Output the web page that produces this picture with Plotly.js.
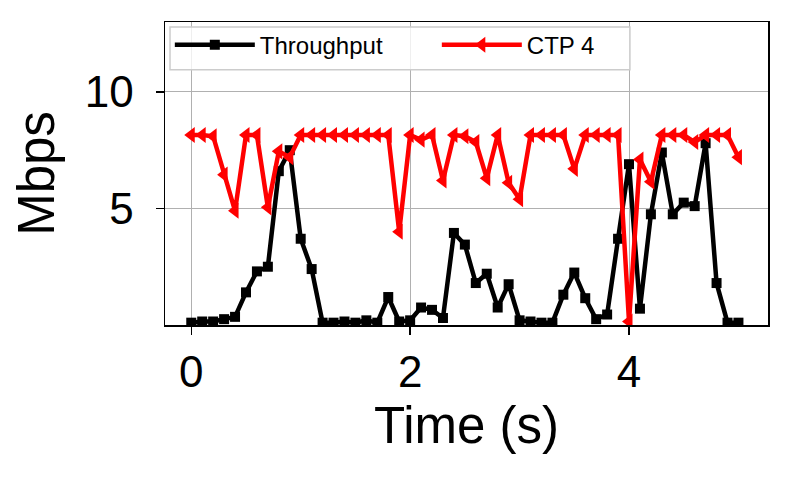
<!DOCTYPE html>
<html>
<head>
<meta charset="utf-8">
<script src="https://cdn.plot.ly/plotly-3.0.1.min.js"></script>
<style>html,body{margin:0;padding:0;background:#fff;}#chart{width:792px;height:480px;}</style>
</head>
<body>
<div id="chart"></div>
<script>
const timeS = [0.0,0.1,0.2,0.3,0.4,0.5,0.6,0.7,0.8,0.9,
  1.0,1.1,1.2,1.3,1.4,1.5,1.6,1.7,1.8,1.9,
  2.0,2.1,2.2,2.3,2.4,2.5,2.6,2.7,2.8,2.9,
  3.0,3.1,3.2,3.3,3.4,3.5,3.6,3.7,3.8,3.9,
  4.0,4.1,4.2,4.3,4.4,4.5,4.6,4.7,4.8,4.9,5.0];

const throughput = [0.1,0.15,0.15,0.25,0.35,1.4,2.3,2.5,6.6,7.5,
  3.7,2.4,0.1,0.1,0.15,0.1,0.2,0.1,1.2,0.15,
  0.2,0.75,0.65,0.3,3.95,3.45,1.8,2.2,0.75,1.75,
  0.2,0.15,0.1,0.1,1.3,2.25,1.15,0.25,0.45,3.7,
  6.9,0.7,4.75,7.4,4.75,5.25,5.1,7.8,1.8,0.1,0.1];

const ctp4 = [8.15,8.15,8.1,6.45,4.9,8.15,8.15,5.05,7.45,7.2,
  8.15,8.15,8.15,8.15,8.15,8.15,8.15,8.15,8.15,4.0,
  8.15,7.95,8.15,6.2,8.15,8.1,7.85,6.3,8.15,6.1,
  5.4,8.15,8.15,8.15,8.15,6.7,8.15,8.15,8.15,8.15,
  0.15,7.1,6.15,8.15,8.15,8.15,7.85,8.15,8.15,8.15,7.2];

const seriesNames = ["Throughput", "CTP 4"];
const xTicks = [0, 2, 4];
const yTicks = [5, 10];

const FONT = "Liberation Sans, Arial, Helvetica, sans-serif";

const traces = [
  {
    x: timeS, y: throughput, name: seriesNames[0], type: "scatter", mode: "lines+markers",
    line: {color: "#000000", width: 4.5},
    marker: {symbol: "square", size: 10, color: "#000000"}
  },
  {
    x: timeS, y: ctp4, name: seriesNames[1], type: "scatter", mode: "lines+markers",
    line: {color: "#ff0000", width: 4.5},
    marker: {symbol: "triangle-left", size: 14, color: "#ff0000"}
  }
];

const layout = {
  width: 792, height: 480,
  margin: {l: 165, r: 24, t: 22, b: 155},
  paper_bgcolor: "#ffffff", plot_bgcolor: "#ffffff",
  font: {family: FONT, color: "#000000"},
  showlegend: true,
  legend: {
    orientation: "h", x: 0.008, y: 0.998, xanchor: "left", yanchor: "top",
    bgcolor: "rgba(0,0,0,0)", borderwidth: 0,
    font: {family: FONT, size: 24, color: "#000000"},
    itemwidth: 80, entrywidth: 172, entrywidthmode: "pixels"
  },
  shapes: [{
    type: "rect", xref: "paper", yref: "paper", layer: "above",
    x0: 0.0083, x1: 0.771, y0: 0.842, y1: 0.9835,
    fillcolor: "rgba(255,255,255,0.8)", line: {color: "#cccccc", width: 1.5}
  }],
  xaxis: {
    range: [-0.24, 5.27], tickvals: xTicks, ticktext: xTicks.map(String),
    showgrid: true, gridcolor: "#b0b0b0", gridwidth: 1,
    zeroline: false, showline: true, linecolor: "#000000", linewidth: 1.5, mirror: true,
    ticks: "outside", ticklen: 8, tickwidth: 1.5, tickcolor: "#000000",
    tickfont: {family: FONT, size: 44, color: "#000000"},
    title: {text: "Time (s)", font: {family: FONT, size: 51, color: "#000000"}, standoff: 12}
  },
  yaxis: {
    range: [0, 13], tickvals: yTicks, ticktext: yTicks.map(String),
    showgrid: true, gridcolor: "#b0b0b0", gridwidth: 1,
    zeroline: false, showline: true, linecolor: "#000000", linewidth: 1.5, mirror: true,
    ticks: "outside", ticklen: 8, tickwidth: 1.5, tickcolor: "#000000", ticklabelstandoff: 13,
    tickfont: {family: FONT, size: 44, color: "#000000"},
    title: {text: "Mbps", font: {family: FONT, size: 51, color: "#000000"}, standoff: 14}
  }
};

Plotly.newPlot("chart", traces, layout, {displayModeBar: false, staticPlot: true});
</script>
</body>
</html>
